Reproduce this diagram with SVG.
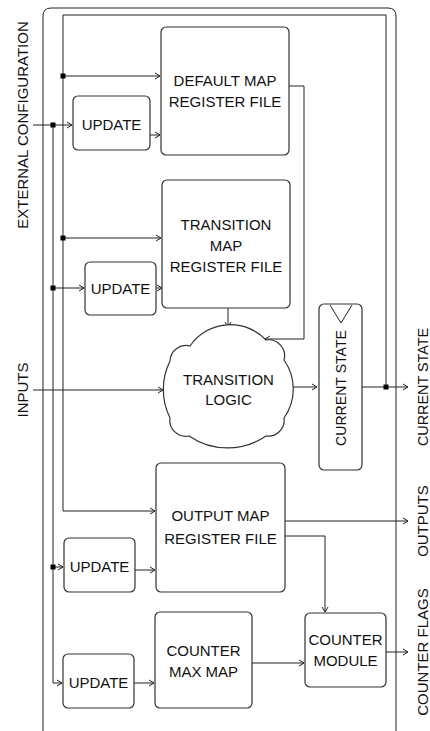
<svg xmlns="http://www.w3.org/2000/svg" width="430" height="731" viewBox="0 0 430 731">
<style>
.box{fill:#fff;stroke:#333;stroke-width:1.2}
.ln{fill:none;stroke:#222;stroke-width:1}
.arr{marker-end:url(#ah)}
.t{font-family:"Liberation Sans",Arial,sans-serif;font-size:15px;fill:#111;text-anchor:middle}
.lbl{font-family:"Liberation Sans",Arial,sans-serif;font-size:15px;fill:#111;text-anchor:middle}
.dot{fill:#000}
</style>
<defs>
<marker id="ah" markerWidth="8" markerHeight="8" refX="6" refY="4" orient="auto" markerUnits="userSpaceOnUse">
<path d="M1,1 L6,4 L1,7" fill="none" stroke="#222" stroke-width="1"/>
</marker>
</defs>
<rect width="430" height="731" fill="#fff"/>
<g id="frame">
<path class="ln" d="M43,731 L43,16 Q43,8 51,8 L388,8 Q396,8 396,16 L396,731" stroke-width="1.2"/>
</g>
<g id="connectors">
<path class="ln arr" d="M386,387 L386,15 L63,15 L63,511 L155,511"/>
<path class="ln arr" d="M63,76 L160,76"/>
<path class="ln arr" d="M63,238 L161,238"/>
<path class="ln arr" d="M362,387 L408,387"/>
<path class="ln arr" d="M33,125 L72,125"/>
<path class="ln arr" d="M53,125 L53,683 L62,683"/>
<path class="ln arr" d="M53,288 L84,288"/>
<path class="ln arr" d="M53,567 L63,567"/>
<path class="ln arr" d="M150,135 L160,135"/>
<path class="ln arr" d="M156,288 L162,288"/>
<path class="ln arr" d="M135,570 L155,570"/>
<path class="ln arr" d="M134,683 L154,683"/>
<path class="ln arr" d="M289,86 L304,86 L304,339 L265,339"/>
<path class="ln arr" d="M228,308 L228,327"/>
<path class="ln arr" d="M33,390 L163,390"/>
<path class="ln arr" d="M293,387 L317,387"/>
<path class="ln arr" d="M285,521 L408,521"/>
<path class="ln arr" d="M285,536 L325,536 L325,612"/>
<path class="ln arr" d="M252,663 L304,663"/>
<path class="ln arr" d="M386,652 L408,652"/>
<rect class="dot" x="60.5" y="73.5" width="5" height="5"/>
<rect class="dot" x="60.5" y="235.5" width="5" height="5"/>
<rect class="dot" x="50.5" y="122.5" width="5" height="5"/>
<rect class="dot" x="50.5" y="285.5" width="5" height="5"/>
<rect class="dot" x="50.5" y="564.5" width="5" height="5"/>
<rect class="dot" x="383.5" y="384.5" width="5" height="5"/>
</g>
<g id="default-map">
<rect class="box" x="161" y="27" width="128" height="128" rx="5"/>
<text class="t" x="225" y="86">DEFAULT MAP</text>
<text class="t" x="225" y="107">REGISTER FILE</text>
</g>
<g id="update1">
<rect class="box" x="73" y="96" width="77" height="54" rx="5"/>
<text class="t" x="111.5" y="130">UPDATE</text>
</g>
<g id="transition-map">
<rect class="box" x="162" y="180" width="128" height="128" rx="5"/>
<text class="t" x="226" y="230">TRANSITION</text>
<text class="t" x="226" y="251">MAP</text>
<text class="t" x="226" y="272">REGISTER FILE</text>
</g>
<g id="update2">
<rect class="box" x="85" y="262" width="71" height="53" rx="5"/>
<text class="t" x="120.5" y="294">UPDATE</text>
</g>
<g id="transition-logic">
<path class="box" d="M190,346 A49,49 0 0 1 266,340 A16,16 0 0 1 284,360 A50,50 0 0 1 284,418 A16,16 0 0 1 266,436 A68,68 0 0 1 189,436 A16,16 0 0 1 170,418 A64,64 0 0 1 170,361 A16,16 0 0 1 190,346 Z"/>
<text class="t" x="228.5" y="385">TRANSITION</text>
<text class="t" x="228.5" y="405">LOGIC</text>
</g>
<g id="current-state">
<rect class="box" x="319" y="304" width="43" height="166" rx="5"/>
<polyline class="ln" points="330,305 341,323 352,305"/>
<text class="t" transform="translate(346,388) rotate(-90)" textLength="116" lengthAdjust="spacingAndGlyphs">CURRENT STATE</text>
</g>
<g id="output-map">
<rect class="box" x="156" y="463" width="129" height="129" rx="5"/>
<text class="t" x="220.5" y="521">OUTPUT MAP</text>
<text class="t" x="220.5" y="544">REGISTER FILE</text>
</g>
<g id="update3">
<rect class="box" x="64" y="538" width="71" height="54" rx="5"/>
<text class="t" x="99.5" y="572">UPDATE</text>
</g>
<g id="update4">
<rect class="box" x="63" y="654" width="71" height="54" rx="5"/>
<text class="t" x="98.5" y="688">UPDATE</text>
</g>
<g id="counter-max-map">
<rect class="box" x="155" y="612" width="97" height="96" rx="5"/>
<text class="t" x="203.5" y="656">COUNTER</text>
<text class="t" x="203.5" y="677">MAX MAP</text>
</g>
<g id="counter-module">
<rect class="box" x="305" y="613" width="81" height="74" rx="5"/>
<text class="t" x="345.5" y="645">COUNTER</text>
<text class="t" x="345.5" y="666">MODULE</text>
</g>
<g id="labels">
<text class="lbl" transform="translate(28,125) rotate(-90)">EXTERNAL CONFIGURATION</text>
<text class="lbl" transform="translate(28,390) rotate(-90)">INPUTS</text>
<text class="lbl" transform="translate(428,387) rotate(-90)" textLength="118" lengthAdjust="spacingAndGlyphs">CURRENT STATE</text>
<text class="lbl" transform="translate(428,521) rotate(-90)">OUTPUTS</text>
<text class="lbl" transform="translate(428,652) rotate(-90)">COUNTER FLAGS</text>
</g>
</svg>
